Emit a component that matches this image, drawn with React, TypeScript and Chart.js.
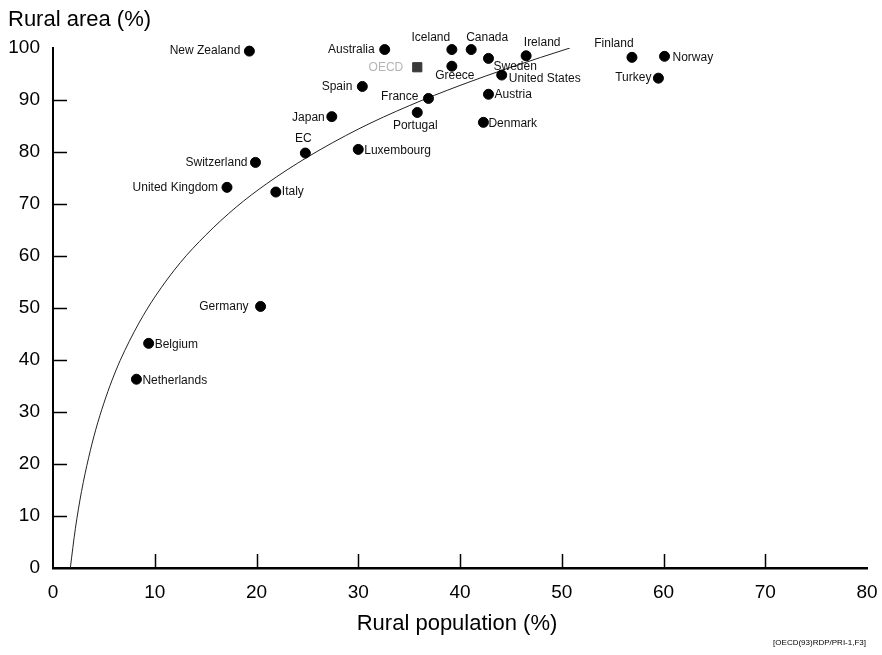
import React, { useEffect, useRef } from "react";
import { Chart, registerables } from "chart.js";

Chart.register(...registerables);

// ---- Data ----
const countries = [
  "New Zealand", "Australia", "Iceland", "Canada", "Ireland", "Sweden", "Greece",
  "United States", "Spain", "France", "Austria", "Finland", "Norway", "Turkey",
  "Japan", "Portugal", "Denmark", "EC", "Luxembourg", "Switzerland",
  "United Kingdom", "Italy", "Germany", "Belgium", "Netherlands",
];
const ruralPopulation = [
  19.3, 32.6, 39.2, 41.1, 46.5, 42.8, 39.2,
  44.1, 30.4, 36.9, 42.8, 56.9, 60.1, 59.5,
  27.4, 35.8, 42.3, 24.8, 30.0, 19.9,
  17.1, 21.9, 20.4, 9.4, 8.2,
];
const ruralArea = [
  99.4, 99.7, 99.7, 99.7, 98.5, 98.0, 96.5,
  94.8, 92.6, 90.3, 91.1, 98.2, 98.4, 94.2,
  86.8, 87.6, 85.7, 79.8, 80.5, 78.0,
  73.2, 72.3, 50.3, 43.2, 36.3,
];
const oecdLabel = "OECD";
const oecdPopulation = [35.8];
const oecdArea = [96.3];

// fitted curve
const curvePopulation = [1.7, 2.2, 2.8, 3.5, 4.2, 5, 5.8, 6.6, 7.5, 8.5, 10, 12.5, 15, 18, 21, 25, 30, 35, 40, 45, 50.8];
const curveArea = [0, 7.6, 14.7, 21.2, 26.6, 31.7, 36.1, 39.9, 43.6, 47.3, 52.1, 58.7, 64, 69.4, 73.9, 79, 84.4, 88.9, 92.8, 96.3, 100];

const xTickValues = [0, 10, 20, 30, 40, 50, 60, 70, 80];
const yTickValues = [0, 10, 20, 30, 40, 50, 60, 70, 80, 90, 100];

const yTitle = "Rural area (%)";
const xTitle = "Rural population (%)";
const footnote = "[OECD(93)RDP/PRI-1,F3]";

// ---- label placement (styling only): [dx, dy, align] ----
const LABEL_PLACEMENT: [number, number, CanvasTextAlign][] = [
  [-9, 0, "right"],   // New Zealand
  [-10, 0, "right"],  // Australia
  [-21, -12, "center"], // Iceland
  [16, -12, "center"],  // Canada
  [16, -13, "center"],  // Ireland
  [5, 8, "left"],     // Sweden
  [3, 9, "center"],   // Greece
  [7, 4, "left"],     // United States
  [-10, 0, "right"],  // Spain
  [-10, -2, "right"], // France
  [6, 0, "left"],     // Austria
  [-18, -14, "center"], // Finland
  [8, 1, "left"],     // Norway
  [-7, 0, "right"],   // Turkey
  [-7, 1, "right"],   // Japan
  [-2, 13, "center"], // Portugal
  [5, 1, "left"],     // Denmark
  [-2, -14, "center"], // EC
  [6, 1, "left"],     // Luxembourg
  [-8, 0, "right"],   // Switzerland
  [-9, 0, "right"],   // United Kingdom
  [6, 0, "left"],     // Italy
  [-12, 0, "right"],  // Germany
  [6, 1, "left"],     // Belgium
  [6, 1, "left"],     // Netherlands
];

const FONT = '"Liberation Sans", Arial, Helvetica, sans-serif';

const decorPlugin = {
  id: "decor",
  afterDatasetsDraw(chart: any) {
    const ctx: CanvasRenderingContext2D = chart.ctx;
    const xs = chart.scales.x;
    const ys = chart.scales.y;
    ctx.save();

    // inward tick marks
    ctx.strokeStyle = "#000";
    ctx.lineWidth = 1.5;
    ctx.beginPath();
    yTickValues.forEach((v) => {
      if (v === 0 || v === 100) return;
      const y = Math.round(ys.getPixelForValue(v)) + 0.5;
      ctx.moveTo(xs.left, y);
      ctx.lineTo(xs.left + 14, y);
    });
    xTickValues.forEach((v) => {
      if (v === 0 || v === 80) return;
      const x = Math.round(xs.getPixelForValue(v)) + 0.5;
      ctx.moveTo(x, ys.bottom);
      ctx.lineTo(x, ys.bottom - 14);
    });
    ctx.stroke();

    // point labels
    ctx.font = `12px ${FONT}`;
    ctx.textBaseline = "middle";
    ctx.fillStyle = "#111";
    countries.forEach((name, i) => {
      const [dx, dy, align] = LABEL_PLACEMENT[i];
      ctx.textAlign = align;
      ctx.fillText(
        name,
        xs.getPixelForValue(ruralPopulation[i]) + dx,
        ys.getPixelForValue(ruralArea[i]) + dy
      );
    });
    ctx.fillStyle = "#b5b5b5";
    ctx.textAlign = "right";
    ctx.fillText(
      oecdLabel,
      xs.getPixelForValue(oecdPopulation[0]) - 14,
      ys.getPixelForValue(oecdArea[0])
    );

    // titles
    ctx.fillStyle = "#000";
    ctx.font = `22px ${FONT}`;
    ctx.textAlign = "left";
    ctx.fillText(yTitle, 8, 20);
    ctx.textAlign = "center";
    ctx.fillText(xTitle, 457, 624);
    ctx.font = `8px ${FONT}`;
    ctx.textAlign = "right";
    ctx.fillText(footnote, 866, 643);

    ctx.restore();
  },
};

export default function App() {
  const canvasRef = useRef<HTMLCanvasElement | null>(null);

  useEffect(() => {
    if (!canvasRef.current) return;
    const chart = new Chart(canvasRef.current, {
      type: "scatter",
      data: {
        datasets: [
          {
            label: "curve",
            data: curvePopulation.map((x, i) => ({ x, y: curveArea[i] })),
            showLine: true,
            borderColor: "#222",
            borderWidth: 1,
            pointRadius: 0,
            cubicInterpolationMode: "monotone",
            order: 3,
          } as any,
          {
            label: "countries",
            data: ruralPopulation.map((x, i) => ({ x, y: ruralArea[i] })),
            backgroundColor: "#000",
            borderColor: "#000",
            pointRadius: 5,
            pointHoverRadius: 5,
            clip: false,
            order: 1,
          } as any,
          {
            label: oecdLabel,
            data: oecdPopulation.map((x, i) => ({ x, y: oecdArea[i] })),
            pointStyle: "rect",
            backgroundColor: "#3a3a3a",
            borderColor: "#3a3a3a",
            pointRadius: 6.5,
            clip: false,
            order: 2,
          } as any,
        ],
      },
      options: {
        animation: false,
        responsive: false,
        maintainAspectRatio: false,
        layout: { padding: { left: 0, top: 48, right: 15, bottom: 0 } },
        plugins: {
          legend: { display: false },
          tooltip: { enabled: false },
          title: { display: false },
        },
        scales: {
          x: {
            type: "linear",
            min: 0,
            max: 80,
            afterBuildTicks: (s: any) => {
              s.ticks = xTickValues.map((v) => ({ value: v }));
            },
            afterFit: (s: any) => {
              s.height = 87;
              s.paddingRight = 0;
              s.paddingLeft = 0;
            },
            grid: { display: false, drawTicks: false },
            border: { display: true, color: "#000", width: 2.5 },
            ticks: {
              color: "#000",
              padding: 13,
              font: { size: 19, family: FONT },
            },
          },
          y: {
            type: "linear",
            min: 0,
            max: 100,
            afterBuildTicks: (s: any) => {
              s.ticks = yTickValues.map((v) => ({ value: v }));
            },
            afterFit: (s: any) => {
              s.width = 53;
              s.paddingTop = 0;
              s.paddingBottom = 0;
            },
            grid: { display: false, drawTicks: false },
            border: { display: true, color: "#000", width: 2 },
            ticks: {
              color: "#000",
              padding: 13,
              font: { size: 19, family: FONT },
            },
          },
        },
      },
      plugins: [decorPlugin],
    });
    return () => chart.destroy();
  }, []);

  return (
    <div style={{ position: "fixed", left: 0, top: 0, width: 882, height: 655, background: "#fff" }}>
      <canvas ref={canvasRef} width={882} height={655} style={{ width: 882, height: 655 }} />
    </div>
  );
}
